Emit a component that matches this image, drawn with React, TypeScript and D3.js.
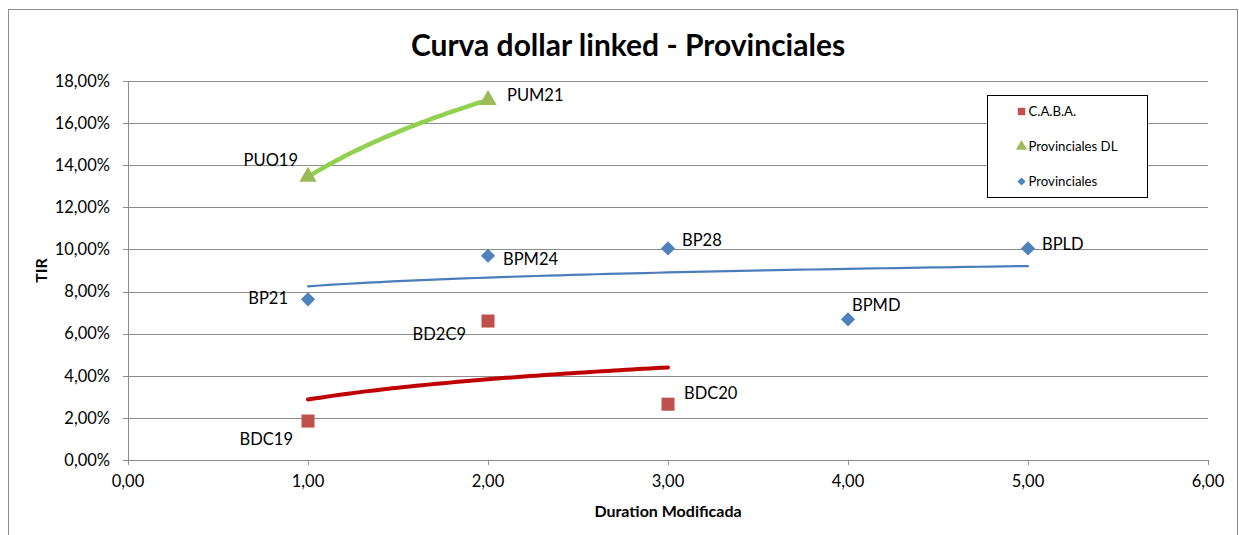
import * as d3 from "d3";

const TITLE = "Curva dollar linked - Provinciales";
const X_TITLE = "Duration Modificada";
const Y_TITLE = "TIR";

const X_TICKS = [0, 1, 2, 3, 4, 5, 6];
const Y_TICKS = [0, 2, 4, 6, 8, 10, 12, 14, 16, 18];

// C.A.B.A.
const cabaNames = ["BDC19", "BD2C9", "BDC20"];
const cabaX = [1, 2, 3];
const cabaY = [1.85, 6.6, 2.65];

// Provinciales DL
const dlNames = ["PUO19", "PUM21"];
const dlX = [1, 2];
const dlY = [13.45, 17.1];

// Provinciales
const provNames = ["BP21", "BPM24", "BP28", "BPMD", "BPLD"];
const provX = [1, 2, 3, 4, 5];
const provY = [7.63, 9.7, 10.05, 6.68, 10.05];

// label placement: [dx, dy, anchor]
const LABEL_POS: Record<string, [number, number, string]> = {
  BDC19: [-15, 24, "end"],
  BD2C9: [-22, 19, "end"],
  BDC20: [16, -5, "start"],
  PUO19: [-10, -11, "end"],
  PUM21: [19, 1, "start"],
  BP21: [-20, 5, "end"],
  BPM24: [15, 9, "start"],
  BP28: [14, -2, "start"],
  BPMD: [4, -8, "start"],
  BPLD: [14, 2, "start"],
};

const W = 1239;
const H = 535;
const M = { left: 128, right: 1208, top: 81, bottom: 460 };
const FONT = "Lato, 'Open Sans', sans-serif";

const loc = d3.formatLocale({ decimal: ",", thousands: ".", grouping: [3], currency: ["$", ""] });
const fmtX = loc.format(".2f");
const fmtY = (v: number) => loc.format(".2f")(v) + "%";

function logFit(xs: number[], ys: number[]) {
  const lx = xs.map(Math.log);
  const mx = d3.mean(lx)!;
  const my = d3.mean(ys)!;
  let sxy = 0, sxx = 0;
  lx.forEach((v, i) => { sxy += (v - mx) * (ys[i] - my); sxx += (v - mx) ** 2; });
  const b = sxy / sxx;
  const a = my - b * mx;
  const [x0, x1] = d3.extent(xs) as [number, number];
  const n = 60;
  return d3.range(n + 1).map((i) => {
    const x = x0 + ((x1 - x0) * i) / n;
    return [x, a + b * Math.log(x)] as [number, number];
  });
}

// rotated square for Excel-like diamond
const diamond = (size: number) => d3.symbol().type(d3.symbolSquare).size(size)() || "";

export default function App() {
  const x = d3.scaleLinear().domain([0, 6]).range([M.left, M.right]);
  const y = d3.scaleLinear().domain([0, 18]).range([M.bottom, M.top]);
  const line = d3.line<[number, number]>().x((d) => x(d[0])).y((d) => y(d[1]));

  const series = [
    { names: cabaNames, xs: cabaX, ys: cabaY, color: "#c0504d", trend: "#c00000", tw: 4, shape: "square", size: 170, label: "C.A.B.A." },
    { names: dlNames, xs: dlX, ys: dlY, color: "#9bbb59", trend: "#92d050", tw: 4.5, shape: "triangle", size: 130, label: "Provinciales DL" },
    { names: provNames, xs: provX, ys: provY, color: "#4f81bd", trend: "#4a7ebb", tw: 2.2, shape: "diamond", size: 100, label: "Provinciales" },
  ];

  const marker = (shape: string, size: number) => {
    if (shape === "diamond") return { d: diamond(size), rot: 45 };
    if (shape === "triangle") return { d: d3.symbol().type(d3.symbolTriangle).size(size)() || "", rot: 0 };
    return { d: d3.symbol().type(d3.symbolSquare).size(size)() || "", rot: 0 };
  };

  return (
    <svg width={W} height={H} style={{ position: "absolute", left: 0, top: 0, background: "#fff" }} fontFamily={FONT}>
      <rect x={8.5} y={9.5} width={1229} height={560} fill="#fff" stroke="#8c8c8c" strokeWidth={1} />
      <text x={628} y={56} textAnchor="middle" fontSize={30} fontWeight={700} fill="#000">{TITLE}</text>

      {Y_TICKS.map((t) => (
        <g key={"y" + t}>
          <line x1={M.left} x2={M.right} y1={Math.round(y(t)) + 0.5} y2={Math.round(y(t)) + 0.5} stroke="#8c8c8c" />
          <line x1={M.left - 5} x2={M.left} y1={Math.round(y(t)) + 0.5} y2={Math.round(y(t)) + 0.5} stroke="#8c8c8c" />
          <text x={M.left - 18} y={y(t)} dy="0.35em" textAnchor="end" fontSize={16.5} fill="#000">{fmtY(t)}</text>
        </g>
      ))}
      <line x1={M.left + 0.5} x2={M.left + 0.5} y1={M.top} y2={M.bottom} stroke="#8c8c8c" />
      {X_TICKS.map((t) => (
        <g key={"x" + t}>
          <line x1={Math.round(x(t)) + 0.5} x2={Math.round(x(t)) + 0.5} y1={M.bottom} y2={M.bottom + 5} stroke="#8c8c8c" />
          <text x={x(t)} y={M.bottom + 27} textAnchor="middle" fontSize={16.5} fill="#000">{fmtX(t)}</text>
        </g>
      ))}

      <text x={668} y={517} textAnchor="middle" fontSize={16} fontWeight={700}>{X_TITLE}</text>
      <text transform={`translate(47,${(M.top + M.bottom) / 2}) rotate(-90)`} textAnchor="middle" fontSize={16} fontWeight={700}>{Y_TITLE}</text>

      {series.map((s, i) => (
        <path key={"t" + i} d={line(logFit(s.xs, s.ys)) || ""} fill="none" stroke={s.trend} strokeWidth={s.tw} strokeLinecap="round" />
      ))}

      {series.map((s, i) => {
        const mk = marker(s.shape, s.size);
        return (
          <g key={"p" + i}>
            {s.xs.map((xv, j) => (
              <path key={j} d={mk.d} transform={`translate(${x(xv)},${y(s.ys[j])}) rotate(${mk.rot})`} fill={s.color} />
            ))}
            {s.xs.map((xv, j) => {
              const [dx, dy, anchor] = LABEL_POS[s.names[j]];
              return (
                <text key={"l" + j} x={x(xv) + dx} y={y(s.ys[j]) + dy} textAnchor={anchor} fontSize={16.5} fill="#000">{s.names[j]}</text>
              );
            })}
          </g>
        );
      })}

      <g transform="translate(987.5,95.5)">
        <rect width={160} height={102} fill="#fff" stroke="#000" strokeWidth={1} />
        {series.map((s, i) => {
          const mk = marker(s.shape, s.shape === "diamond" ? 34 : 55);
          return (
            <g key={s.label} transform={`translate(0,${16 + i * 35})`}>
              <path d={mk.d} transform={`translate(34,0) rotate(${mk.rot})`} fill={s.color} />
              <text x={41} y={0} dy="0.35em" fontSize={13.2}>{s.label}</text>
            </g>
          );
        })}
      </g>
    </svg>
  );
}
